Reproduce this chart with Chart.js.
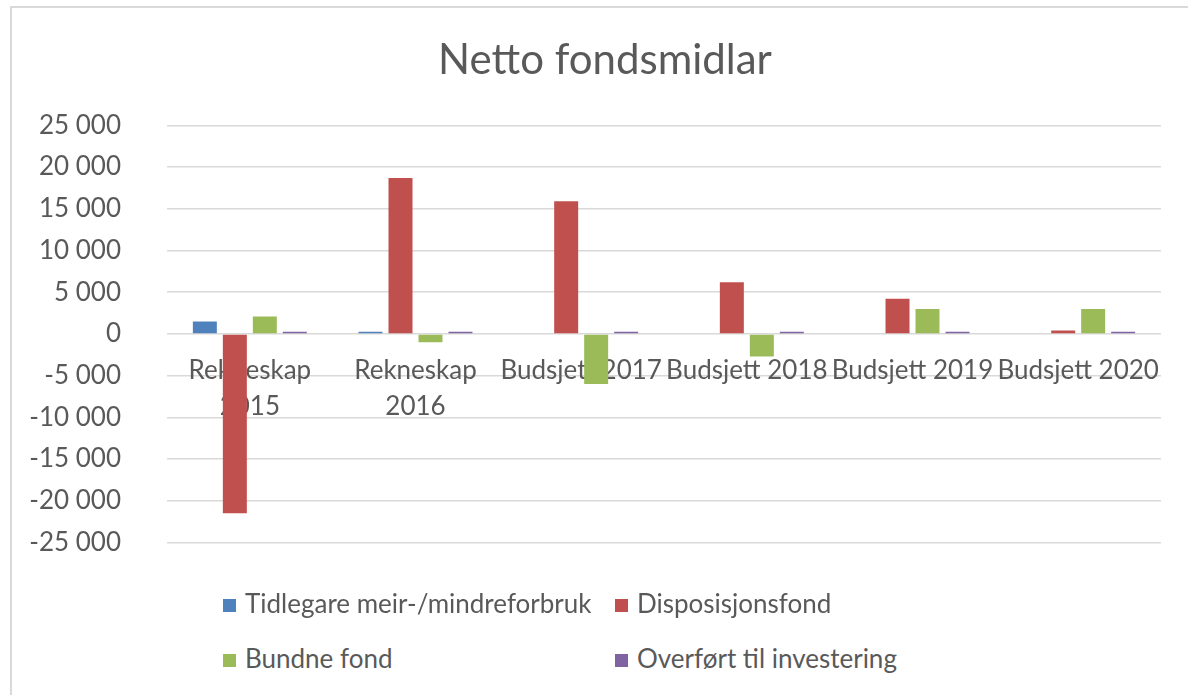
<!DOCTYPE html>
<html>
<head>
<meta charset="utf-8">
<script src="https://cdn.jsdelivr.net/npm/chart.js@4"></script>
<style>
  html, body { margin:0; padding:0; background:#fff; overflow:hidden; }
  body { width:1188px; height:695px; position:relative; font-family: Lato, sans-serif; }
  #ramme { position:absolute; left:10px; top:6px; width:1300px; height:800px; border:2px solid #d9d9d9; }
  #wrap { position:absolute; left:0; top:0; width:1210px; height:604px; }
  .leg { position:absolute; font-size:26px; color:#595959; line-height:36px; white-space:nowrap; }
  .leg span { display:inline-block; width:13px; height:13px; margin-right:9px; vertical-align:middle; position:relative; top:-1px; }
</style>
</head>
<body>
<div id="ramme"></div>
<div id="wrap"><canvas id="graf"></canvas></div>
<div id="legende"></div>
<script>
// kategoriar og seriar (lese av biletet)
var kategoriar = [["Rekneskap","2015"], ["Rekneskap","2016"], "Budsjett 2017", "Budsjett 2018", "Budsjett 2019", "Budsjett 2020"];
var seriar = ["Tidlegare meir-/mindreforbruk", "Disposisjonsfond", "Bundne fond", "Overført til investering"];
var fargar = ["#4F81BD", "#C0504D", "#9BBB59", "#8064A2"];

var tidlegare = [1500, 250, 0, 0, 0, 0];
var disposisjon = [-21500, 18700, 15900, 6200, 4200, 400];
var bundne = [2100, -1000, -6000, -2700, 3000, 3000];
var overfort = [250, 250, 250, 250, 250, 250];

var yMin = -25000, yMax = 25000, ySteg = 5000;

function tusen(v) {
  // 25000 -> "25 000"
  var s = Math.abs(v).toString().replace(/\B(?=(\d{3})+(?!\d))/g, " ");
  return (v < 0 ? "-" : "") + s;
}

var verdiar = [tidlegare, disposisjon, bundne, overfort];
var datasett = [];
for (var i = 0; i < seriar.length; i++) {
  datasett.push({
    label: seriar[i],
    data: verdiar[i],
    backgroundColor: fargar[i],
    barPercentage: 0.8,
    categoryPercentage: 0.724
  });
}

var skrift = "Lato, 'Open Sans', sans-serif";

new Chart(document.getElementById("graf"), {
  type: "bar",
  data: { labels: kategoriar, datasets: datasett },
  options: {
    responsive: true,
    maintainAspectRatio: false,
    animation: false,
    layout: { padding: { left: 20, right: 20, top: 0, bottom: 19 } },
    plugins: {
      legend: { display: false },
      tooltip: { enabled: false },
      title: {
        display: true,
        text: "Netto fondsmidlar",
        color: "#595959",
        font: { family: skrift, size: 42, weight: "normal" },
        padding: { top: 35, bottom: 40 }
      }
    },
    scales: {
      x: {
        position: { y: 0 },
        z: 1,
        grid: { display: false },
        border: { display: false },
        ticks: {
          color: "#595959",
          font: { family: skrift, size: 26, lineHeight: 1.38 },
          padding: 11,
          autoSkip: false,
          maxRotation: 0,
          minRotation: 0
        }
      },
      y: {
        min: yMin,
        max: yMax,
        afterFit: function (s) { s.width = 147; },
        grid: { color: "#d9d9d9", lineWidth: 1.5, drawTicks: false },
        border: { display: false },
        ticks: {
          stepSize: ySteg,
          color: "#595959",
          font: { family: skrift, size: 26 },
          padding: 46,
          callback: function (v) { return tusen(v); }
        }
      },
      // tom akse til høgre, berre for å gje luft (tittelen står midt i ramma)
      hogre: {
        position: "right",
        grid: { display: false },
        border: { display: false },
        ticks: { display: false },
        afterFit: function (s) { s.width = 29; }
      }
    }
  }
});

// legende i to kolonnar, som i Excel
var kolX = [223, 615];
var radY = [585, 640];
var leg = document.getElementById("legende");
for (var j = 0; j < seriar.length; j++) {
  var d = document.createElement("div");
  d.className = "leg";
  d.style.left = kolX[j % 2] + "px";
  d.style.top = radY[Math.floor(j / 2)] + "px";
  d.innerHTML = '<span style="background:' + fargar[j] + '"></span>' + seriar[j];
  leg.appendChild(d);
}
</script>
</body>
</html>
